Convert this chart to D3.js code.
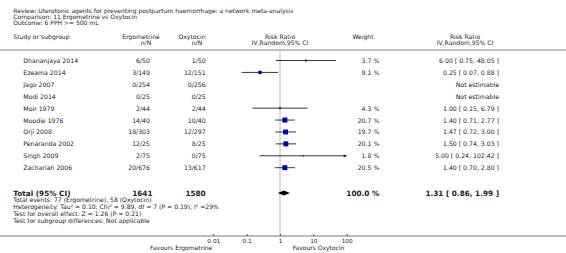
<!DOCTYPE html>
<html><head><meta charset="utf-8">
<script src="https://cdn.jsdelivr.net/npm/d3@7/dist/d3.min.js"></script>
<style>
html,body{margin:0;padding:0;background:#fff;}
svg text{font-family:"DejaVu Sans",Verdana,sans-serif;fill:#222;}
</style></head>
<body><svg id="c" width="566" height="253"></svg>
<script>
const titleLines = ["Review:  Uterotonic agents for preventing postpartum haemorrhage: a network meta-analysis",
  "Comparison:  11 Ergometrine vs Oxytocin",
  "Outcome:  6 PPH >= 500 mL"];
const studies = ["Dhananjaya 2014","Ezeama 2014","Jago 2007","Modi 2014","Moir 1979","Moodie 1976","Orji 2008","Penaranda 2002","Singh 2009","Zachariah 2006"];
const ergoEvents = [6,3,0,0,2,14,18,12,2,20];
const ergoTotal = [50,149,254,25,44,40,303,25,75,676];
const oxyEvents = [1,12,0,0,2,10,12,8,0,13];
const oxyTotal = [50,151,256,25,44,40,297,25,75,617];
const weights = [3.7,9.1,null,null,4.3,20.7,19.7,20.1,1.8,20.5];
const rr = [6.00,0.25,null,null,1.00,1.40,1.47,1.50,5.00,1.40];
const lo = [0.75,0.07,null,null,0.15,0.71,0.72,0.74,0.24,0.70];
const hi = [48.05,0.88,null,null,6.79,2.77,3.00,3.03,102.42,2.80];
const total = {n1:1641, n2:1580, weight:100.0, rr:1.31, lo:0.86, hi:1.99};
const footerLines = ["Total events: 77 (Ergometrine), 58 (Oxytocin)",
  "Heterogeneity: Tau\u00B2 = 0.10; Chi\u00B2 = 9.89, df = 7 (P = 0.19); I\u00B2 =29%",
  "Test for overall effect: Z = 1.26 (P = 0.21)",
  "Test for subgroup differences: Not applicable"];
const tickValues = [0.01,0.1,1,10,100];
const tickLabels = ["0.01","0.1","1","10","100"];
const favours = ["Favours Ergometrine","Favours Oxytocin"];

const svg = d3.select("#c");
const x = d3.scaleLog().domain([0.01,100]).range([213.3,346.7]);
const y = d3.scaleLinear().domain([0,9]).range([60.5,167.7]);
const fmt2 = d3.format(".2f");

// title
svg.selectAll("text.title").data(titleLines).join("text")
  .attr("x",13.3).attr("y",(d,i)=>10+i*6.3).attr("dominant-baseline","central")
  .attr("font-size",6).text(d=>d);

// headers
const hdr = [
  {t:"Study or subgroup",x:13.3,y:36.5,a:"start"},
  {t:"Ergometrine",x:141,y:36.5,a:"middle"},
  {t:"n/N",x:146,y:42.5,a:"middle"},
  {t:"Oxytocin",x:192,y:36.5,a:"middle"},
  {t:"n/N",x:197,y:42.5,a:"middle"},
  {t:"Risk Ratio",x:280,y:36.5,a:"middle"},
  {t:"IV,Random,95% CI",x:280,y:42.5,a:"middle"},
  {t:"Weight",x:363,y:36.5,a:"middle"},
  {t:"Risk Ratio",x:465,y:36.5,a:"middle"},
  {t:"IV,Random,95% CI",x:465,y:42.5,a:"middle"}
];
svg.selectAll("text.hdr").data(hdr).join("text")
  .attr("x",d=>d.x).attr("y",d=>d.y).attr("text-anchor",d=>d.a)
  .attr("dominant-baseline","central").attr("font-size",6.1).text(d=>d.t);

// separator
svg.append("line").attr("x1",0).attr("x2",566).attr("y1",50).attr("y2",50)
  .attr("stroke","#aaa").attr("stroke-width",1.6);

// null line
svg.append("line").attr("x1",x(1)).attr("x2",x(1)).attr("y1",51).attr("y2",236)
  .attr("stroke","#d4d4d4").attr("stroke-width",1.6);

// rows
const rows = studies.map((s,i)=>({s,i,e1:ergoEvents[i],n1:ergoTotal[i],e2:oxyEvents[i],n2:oxyTotal[i],w:weights[i],rr:rr[i],lo:lo[i],hi:hi[i]}));
const g = svg.append("g");
g.selectAll("text.st").data(rows).join("text").attr("x",23.3).attr("y",d=>y(d.i))
  .attr("dominant-baseline","central").attr("font-size",6.2).text(d=>d.s);
g.selectAll("text.e").data(rows).join("text").attr("x",150).attr("y",d=>y(d.i))
  .attr("text-anchor","end").attr("dominant-baseline","central").attr("font-size",6.2).text(d=>d.e1+"/"+d.n1);
g.selectAll("text.o").data(rows).join("text").attr("x",205.7).attr("y",d=>y(d.i))
  .attr("text-anchor","end").attr("dominant-baseline","central").attr("font-size",6.2).text(d=>d.e2+"/"+d.n2);
g.selectAll("text.w").data(rows.filter(d=>d.w!=null)).join("text").attr("x",379.3).attr("y",d=>y(d.i))
  .attr("text-anchor","end").attr("dominant-baseline","central").attr("font-size",6.2).text(d=>d.w.toFixed(1)+" %");
g.selectAll("text.r").data(rows).join("text").attr("x",499).attr("y",d=>y(d.i))
  .attr("text-anchor","end").attr("dominant-baseline","central").attr("font-size",6.2)
  .text(d=>d.rr==null?"Not estimable":fmt2(d.rr)+" [ "+fmt2(d.lo)+", "+fmt2(d.hi)+" ]");

// CI lines
const est = rows.filter(d=>d.rr!=null);
const xmax = 100;
svg.selectAll("line.ci").data(est).join("line")
  .attr("x1",d=>x(Math.max(d.lo,0.01))).attr("x2",d=>x(Math.min(d.hi,xmax)))
  .attr("y1",d=>y(d.i)).attr("y2",d=>y(d.i)).attr("stroke","#222").attr("stroke-width",0.9);
// arrows for clipped
svg.selectAll("path.arr").data(est.filter(d=>d.hi>xmax)).join("path")
  .attr("d",d=>{const xx=x(xmax),yy=y(d.i);return `M${xx-3},${yy-1.6}L${xx},${yy}L${xx-3},${yy+1.6}Z`;})
  .attr("fill","#222");
// squares
svg.selectAll("rect.sq").data(est).join("rect")
  .attr("x",d=>x(d.rr)-1.1*Math.sqrt(d.w)/2).attr("y",d=>y(d.i)-1.1*Math.sqrt(d.w)/2)
  .attr("width",d=>1.1*Math.sqrt(d.w)).attr("height",d=>1.1*Math.sqrt(d.w))
  .attr("fill",d=>d.w<5?"#333":"#0000aa");

// total row
const ty = 193;
const tb = svg.append("g").attr("font-weight","bold").attr("font-size",7.3);
tb.append("text").attr("x",13.3).attr("y",ty).attr("dominant-baseline","central").text("Total (95% CI)");
tb.append("text").attr("x",152.5).attr("y",ty).attr("text-anchor","end").attr("dominant-baseline","central").text(total.n1);
tb.append("text").attr("x",205.7).attr("y",ty).attr("text-anchor","end").attr("dominant-baseline","central").text(total.n2);
tb.append("text").attr("x",379.3).attr("y",ty).attr("text-anchor","end").attr("dominant-baseline","central").text(total.weight.toFixed(1)+" %");
tb.append("text").attr("x",499).attr("y",ty).attr("text-anchor","end").attr("dominant-baseline","central")
  .text(fmt2(total.rr)+" [ "+fmt2(total.lo)+", "+fmt2(total.hi)+" ]");
svg.append("path")
  .attr("d",`M${x(total.lo)},${ty}L${x(total.rr)},${ty-2.6}L${x(total.hi)},${ty}L${x(total.rr)},${ty+2.6}Z`)
  .attr("fill","#000");

// footer
svg.selectAll("text.ft").data(footerLines).join("text")
  .attr("x",13.3).attr("y",(d,i)=>199.5+i*7).attr("dominant-baseline","central")
  .attr("font-size",6.1).text(d=>d);

// axis
svg.append("line").attr("x1",0).attr("x2",566).attr("y1",236).attr("y2",236)
  .attr("stroke","#555").attr("stroke-width",0.8);
const ax = svg.append("g").attr("transform","translate(0,236)")
  .call(d3.axisBottom(x).tickValues(tickValues).tickSize(-2).tickPadding(3)
    .tickFormat((d,i)=>tickLabels[i]));
ax.select(".domain").remove();
ax.selectAll("line").attr("stroke","#555");
ax.selectAll("text").attr("font-size",5.8).attr("font-family","DejaVu Sans").attr("fill","#222");
svg.append("text").attr("x",212.3).attr("y",247.5).attr("text-anchor","end")
  .attr("dominant-baseline","central").attr("font-size",6).text(favours[0]);
svg.append("text").attr("x",292.7).attr("y",247.5)
  .attr("dominant-baseline","central").attr("font-size",6).text(favours[1]);
</script></body></html>
